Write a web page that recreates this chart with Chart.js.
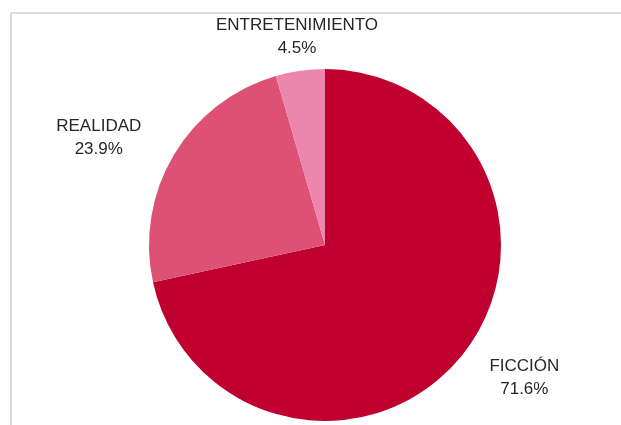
<!DOCTYPE html>
<html>
<head>
<meta charset="utf-8">
<script src="https://cdn.jsdelivr.net/npm/chart.js@4"></script>
<style>
  html, body { margin: 0; padding: 0; background: #fff; overflow: hidden; }
  #wrap { position: relative; width: 621px; height: 425px; }
  #frame { position: absolute; left: 10px; top: 12px; width: 700px; height: 500px; border: 2px solid #dedede; box-sizing: border-box; }
  canvas { position: absolute; left: 0; top: 0; }
</style>
</head>
<body>
<div id="wrap">
  <div id="frame"></div>
  <canvas id="pie" width="621" height="425"></canvas>
</div>
<script>
// Reparto por género
const categories = ['FICCIÓN', 'REALIDAD', 'ENTRETENIMIENTO'];
const shares = [71.6, 23.9, 4.5];
const sliceColors = ['#c0002f', '#dc5174', '#ec86ac'];

// draws category + percent outside each slice
const outsideLabels = {
    id: 'outsideLabels',
    afterDatasetsDraw(chart) {
        const ctx = chart.ctx;
        const meta = chart.getDatasetMeta(0);
        ctx.save();
        ctx.fillStyle = '#262626';
        ctx.font = '17px "Liberation Sans", Arial, sans-serif';
        ctx.textAlign = 'center';
        ctx.textBaseline = 'middle';
        meta.data.forEach((arc, i) => {
            const mid = (arc.startAngle + arc.endAngle) / 2;
            const r = arc.outerRadius;
            const cx = Math.cos(mid), sy = Math.sin(mid);
            // push labels further out sideways when the slice points left/right
            const x = arc.x + cx * (r + 10) + cx * Math.abs(cx) * 90;
            const y = arc.y + sy * (r + 35);
            ctx.fillText(categories[i], x, y - 11);
            ctx.fillText(shares[i].toFixed(1) + '%', x, y + 12);
        });
        ctx.restore();
    }
};

new Chart(document.getElementById('pie'), {
    type: 'pie',
    data: {
        labels: categories,
        datasets: [{
            data: shares,
            backgroundColor: sliceColors,
            borderWidth: 0
        }]
    },
    options: {
        responsive: false,
        animation: false,
        layout: { padding: { top: 69, bottom: 4, left: 100, right: 71 } },
        plugins: {
            legend: { display: false },
            tooltip: { enabled: false }
        }
    },
    plugins: [outsideLabels]
});
</script>
</body>
</html>
